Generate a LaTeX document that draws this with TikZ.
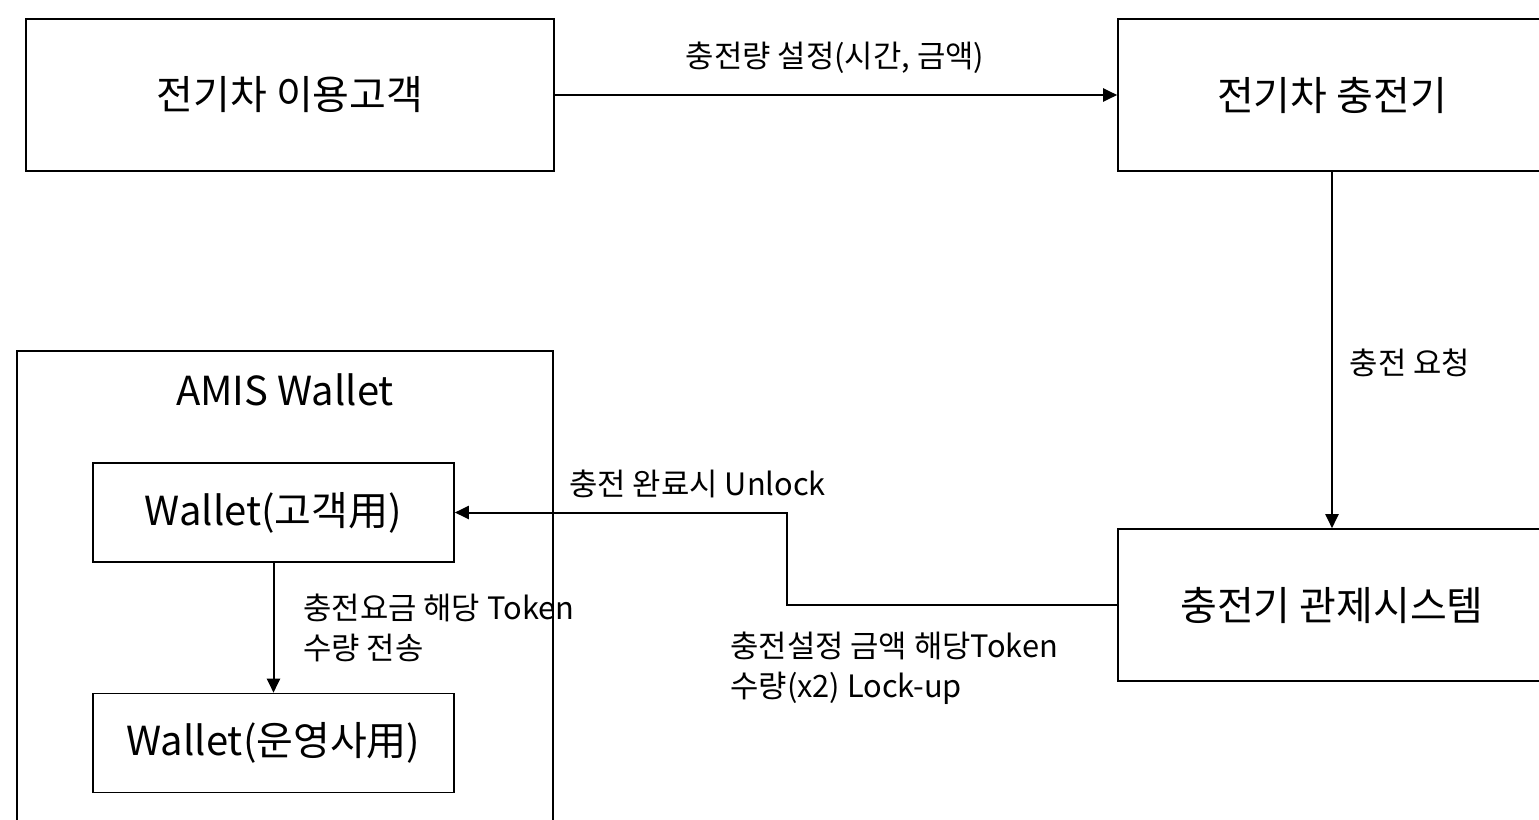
\documentclass[tikz,border=0pt]{standalone}
\usepackage{fontspec}
\setmainfont{Noto Sans CJK KR}
\usetikzlibrary{positioning}
\usetikzlibrary{arrows.meta}

\begin{document}
\begin{tikzpicture}[
			x=0.5pt, y=-0.5pt,
			box/.style={draw, line width=0.8pt, rectangle, minimum width=264pt, minimum height=76pt, font=\fontsize{20}{24}\selectfont},
			sidebox/.style={box, minimum width=214pt},
			wallet/.style={draw, line width=0.8pt, rectangle, minimum width=180.5pt, minimum height=49.5pt, font=\fontsize{20}{24}\selectfont},
			container/.style={draw, line width=0.8pt, rectangle, minimum width=268pt, minimum height=250pt},
			lbl/.style={font=\fontsize{15.4}{20}\selectfont, align=left, inner sep=0pt},
			arrow/.style={-{Triangle[length=7pt,width=6.5pt]}, line width=1pt}
			]
			\useasboundingbox (0,0) rectangle (1539,820);
			\clip (0,0) rectangle (1539,820);
			% Nodes
			\node[box] (customer) at (290,95) {전기차 이용고객};
			\node[sidebox] (charger) at (1332,95) {전기차 충전기};
			\node[sidebox] (control) at (1332,605) {충전기 관제시스템};
			
			% AMIS wallet
			\node[container] (amis) at (285,601) {};
			\node[font=\fontsize{20}{24}\selectfont, below=8pt of amis.north] (amistitle) {AMIS Wallet};
			\node[wallet] (custwallet) at (273.5,512.5) {Wallet(고객用)};
			\node[wallet] (opwallet) at (273.5,743) {Wallet(운영사用)};
			
			% Labels
			\node[lbl] (setlbl) at (835,58) {충전량 설정(시간, 금액)};
			\node[lbl] (reqlbl) at (1410,363) {충전 요청};
			\node[lbl, anchor=west] (unlocklbl) at (569,484) {충전 완료시 Unlock};
			\node[lbl, anchor=west] (locklbl) at (730,668) {충전설정 금액 해당Token\\수량(x2) Lock-up};
			\node[lbl, anchor=west] (paylbl) at (303,628) {충전요금 해당 Token\\수량 전송};
			
			% Arrows
			\coordinate (bend) at (787,560);
			\draw[arrow] (customer) -- (charger);
			\draw[arrow] (charger) -- (control);
			\draw[arrow] (control.west) -| (bend) |- (custwallet.east);
			\draw[arrow] (custwallet) -- (opwallet);
		\end{tikzpicture}
\end{document}
